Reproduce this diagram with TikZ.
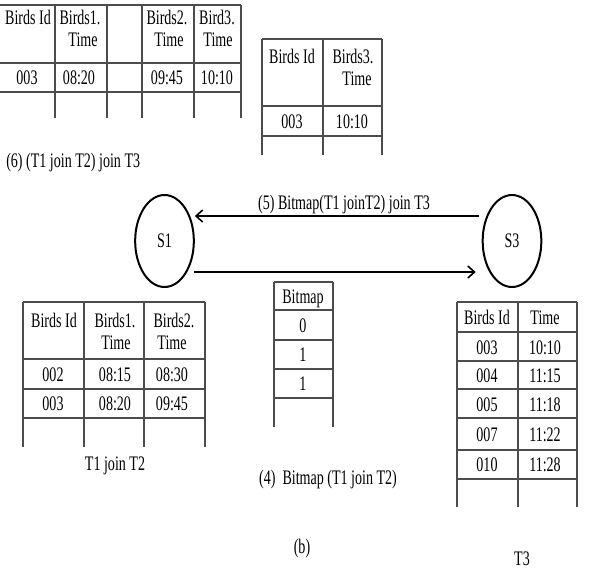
\documentclass[tikz,border=0pt]{standalone}
\usepackage{fontspec}
\setmainfont[FakeStretch=0.68]{Liberation Serif}
\usetikzlibrary{shapes.geometric,arrows.meta}
\begin{document}
\begin{tikzpicture}[x=0.75pt,y=-0.75pt,
  tline/.style={draw=gray!60!black,line width=0.8pt},
  txt/.style={font=\fontsize{15.5}{16.5}\selectfont,inner sep=0pt,anchor=base},
  site/.style={ellipse,draw,line width=1.5pt,minimum width=44pt,minimum height=69pt,inner sep=0pt,font=\fontsize{15.5}{16.5}\selectfont},
  arr/.style={line width=1.2pt,-{Straight Barb[length=5pt,width=9pt,line width=1.2pt]}}]
\useasboundingbox (0,0) rectangle (589,569);

% ---- top-left table: (T1 join T2) join T3
\draw[tline] (0,5) -- (241,5) (0,63) -- (241,63) (0,92) -- (241,92);
\foreach \x in {55,107,142,194,241} \draw[tline] (\x,5) -- (\x,118);
\node[txt] (a1) at (28,24) {Birds Id};
\node[txt] (a2) at (80,24) {Birds1.};
\node[txt] (a3) at (83,46) {Time};
\node[txt] (a4) at (167,24) {Birds2.};
\node[txt] (a5) at (169,46) {Time};
\node[txt] (a6) at (217,24) {Bird3.};
\node[txt] (a7) at (218,46) {Time};
\node[txt] (a8) at (27,84) {003};
\node[txt] (a9) at (79,84) {08:20};
\node[txt] (a10) at (167,84) {09:45};
\node[txt] (a11) at (217,84) {10:10};
\node[txt,anchor=base west] (l6) at (6,167) {(6) (T1 join T2) join T3};

% ---- top-right table: T3 part
\draw[tline] (262,39) -- (382,39) (262,106) -- (382,106) (262,136) -- (382,136);
\foreach \x in {262,323,382} \draw[tline] (\x,39) -- (\x,155);
\node[txt] (b1) at (292,63) {Birds Id};
\node[txt] (b2) at (353,63) {Birds3.};
\node[txt] (b3) at (357,85) {Time};
\node[txt] (b4) at (292,128) {003};
\node[txt] (b5) at (352,128) {10:10};

% ---- sites and arrows
\node[site] (s1) at (164.5,241) {S1};
\node[site] (s3) at (512,241) {S3};
\draw[arr] ([shift={(-3,-25)}]s3.west) -- ([shift={(0,-25)}]s1.east);
\node[txt] (l5) at (344,209) {(5) Bitmap(T1 joinT2) join T3};
\draw[arr] ([shift={(-1,31)}]s1.east) -- ([shift={(-6,31)}]s3.west);

% ---- bottom-left table: T1 join T2
\draw[tline] (23,302) -- (205,302) (23,359) -- (205,359) (23,389) -- (205,389) (23,418) -- (205,418);
\foreach \x in {23,84,144,205} \draw[tline] (\x,302) -- (\x,447);
\node[txt] (c1) at (54,327) {Birds Id};
\node[txt] (c2) at (115,327) {Birds1.};
\node[txt] (c3) at (116,349) {Time};
\node[txt] (c4) at (174,327) {Birds2.};
\node[txt] (c5) at (172,349) {Time};
\node[txt] (c6) at (53,381) {002};
\node[txt] (c7) at (115,381) {08:15};
\node[txt] (c8) at (172,381) {08:30};
\node[txt] (c9) at (53,410) {003};
\node[txt] (c10) at (115,410) {08:20};
\node[txt] (c11) at (172,410) {09:45};
\node[txt] (lt12) at (115,470) {T1 join T2};

% ---- bitmap table
\draw[tline] (274,282) -- (333,282) (274,310) -- (333,310) (274,340) -- (333,340) (274,369) -- (333,369) (274,398) -- (333,398);
\foreach \x in {274,333} \draw[tline] (\x,282) -- (\x,427);
\node[txt] (d1) at (303,303) {Bitmap};
\node[txt] (d2) at (303,332) {0};
\node[txt] (d3) at (303,361) {1};
\node[txt] (d4) at (303,390) {1};
\node[txt] (l4) at (328,484) {(4)\ \ Bitmap (T1 join T2)};

% ---- bottom-right table: T3
\draw[tline] (457,302) -- (577,302) (457,332) -- (577,332) (457,361) -- (577,361) (457,389) -- (577,389) (457,418) -- (577,418) (457,450) -- (577,450) (457,479) -- (577,479);
\foreach \x in {457,518,577} \draw[tline] (\x,302) -- (\x,507);
\node[txt] (e1) at (487,324) {Birds Id};
\node[txt] (e2) at (545,324) {Time};
\node[txt] (e3) at (487,354) {003};
\node[txt] (e4) at (545,354) {10:10};
\node[txt] (e5) at (487,382) {004};
\node[txt] (e6) at (545,382) {11:15};
\node[txt] (e7) at (487,411) {005};
\node[txt] (e8) at (545,411) {11:18};
\node[txt] (e9) at (487,441) {007};
\node[txt] (e10) at (545,441) {11:22};
\node[txt] (e11) at (487,471) {010};
\node[txt] (e12) at (545,471) {11:28};
\node[txt] (lt3) at (522,565) {T3};

\node[txt] (lb) at (302,553) {(b)};
\end{tikzpicture}
\end{document}
